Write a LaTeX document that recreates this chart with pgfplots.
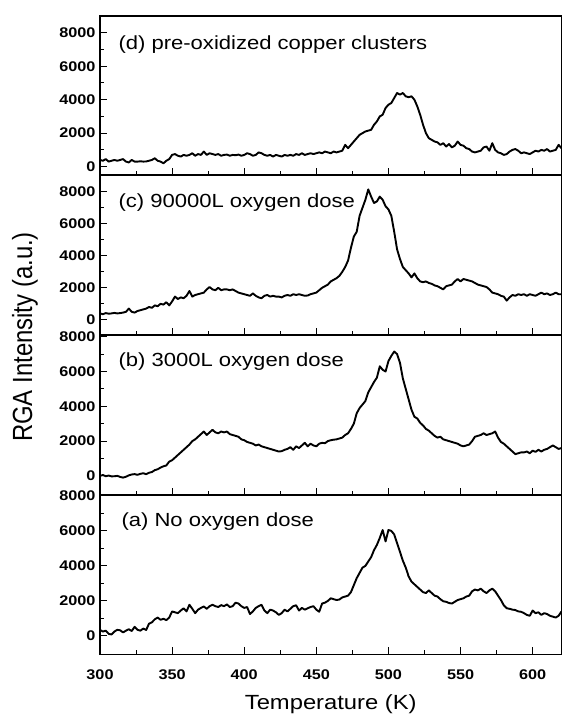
\documentclass[border=0pt]{standalone}
\usepackage{fontspec}
\setmainfont[FakeStretch=1.16]{Liberation Sans}
\newfontfamily\plainsans{Liberation Sans}
\usepackage{graphicx}
\usepackage{pgfplots}
\pgfplotsset{compat=1.18}
\pgfplotsset{
  panel/.style={
    scale only axis, width=461.5bp,
    xmin=300, xmax=620,
    xtick={300,350,...,600}, minor x tick num=1,
    ytick={0,2000,4000,6000,8000}, minor y tick num=1,
    tick align=inside, xtick pos=left, ytick pos=left,
    major tick length=7bp, minor tick length=4bp,
    axis line style={line width=1.3bp},
    every tick/.append style={black, line width=1.1bp},
    /pgf/number format/assume math mode=true,
    /pgf/number format/set thousands separator={},
    tick label style={font=\fontsize{14bp}{16bp}\selectfont\bfseries},
    yticklabel style={xshift=-1bp},
    clip=true,
  },
  curve/.style={black, line width=1.9bp, mark=none, line join=round},
}
\tikzset{lab/.style={anchor=west, font=\fontsize{19bp}{22bp}\selectfont}}
\begin{document}
\begin{tikzpicture}
% (d)
\begin{axis}[panel, at={(0,0)}, anchor=north west, height=159bp, ymin=-500, ymax=9000, xticklabels={}]
\addplot[curve] coordinates {(300,400)(302,350)(304,450)(306,300)(308,350)(310,400)(312,350)(314,400)(316,450)(318,300)(320,250)(322,400)(324,300)(326,300)(328,320)(330,300)(332,310)(334,350)(336,400)(338,500)(340,350)(342,300)(344,200)(346,350)(348,450)(350,700)(352,750)(354,650)(356,600)(358,700)(360,650)(362,700)(364,800)(366,650)(368,750)(370,700)(372,900)(374,700)(376,800)(378,750)(380,700)(382,750)(384,650)(386,700)(388,720)(390,650)(392,700)(394,680)(396,720)(398,650)(400,700)(402,800)(404,750)(406,650)(408,700)(410,850)(412,800)(414,700)(416,650)(418,700)(420,600)(422,700)(424,650)(426,600)(428,700)(430,650)(432,700)(434,650)(436,750)(438,700)(440,800)(442,700)(444,750)(446,800)(448,750)(450,800)(452,850)(454,800)(456,900)(458,850)(460,800)(462,900)(464,850)(466,900)(468,950)(470,1300)(472,1100)(474,1300)(476,1500)(478,1700)(480,1900)(482,2000)(484,2100)(486,2150)(488,2200)(490,2500)(492,2700)(494,3000)(496,3100)(498,3500)(500,3700)(502,3800)(504,4100)(506,4400)(508,4300)(510,4400)(512,4200)(514,4150)(516,4200)(518,4000)(520,3600)(522,3100)(524,2500)(526,2000)(528,1700)(530,1600)(532,1500)(534,1450)(536,1300)(538,1400)(540,1200)(542,1350)(544,1150)(546,1250)(548,1500)(550,1300)(552,1250)(554,1100)(556,1050)(558,900)(560,850)(562,900)(564,950)(566,1150)(568,1200)(570,950)(572,1400)(574,1000)(576,850)(578,800)(580,700)(582,750)(584,900)(586,1000)(588,1050)(590,950)(592,800)(594,850)(596,800)(598,750)(600,850)(602,950)(604,900)(606,1000)(608,950)(610,1050)(612,900)(614,950)(616,1000)(618,1300)(620,1100)};
\node[lab] at (rel axis cs:0.0325,0.818) {(d) pre-oxidized copper clusters};
\end{axis}
% (c)
\begin{axis}[panel, at={(0,-159bp)}, anchor=north west, height=160bp, ymin=-950, ymax=9050, xticklabels={}]
\addplot[curve] coordinates {(300,400)(302,350)(304,420)(306,380)(308,400)(310,430)(312,400)(314,420)(316,450)(318,500)(320,700)(322,500)(324,450)(326,550)(328,600)(330,650)(332,700)(334,800)(336,750)(338,900)(340,850)(342,1000)(344,950)(346,1100)(348,900)(350,1150)(352,1450)(354,1300)(356,1400)(358,1350)(360,1500)(362,1800)(364,1450)(366,1550)(368,1600)(370,1650)(372,1700)(374,1900)(376,2050)(378,1900)(380,1850)(382,2000)(384,1850)(386,1900)(388,1900)(390,1850)(392,1900)(394,1800)(396,1700)(398,1650)(400,1600)(402,1550)(404,1500)(406,1650)(408,1500)(410,1400)(412,1350)(414,1500)(416,1550)(418,1450)(420,1500)(422,1450)(424,1450)(426,1400)(428,1500)(430,1550)(432,1500)(434,1600)(436,1550)(438,1600)(440,1550)(442,1500)(444,1520)(446,1600)(448,1650)(450,1700)(452,1850)(454,2000)(456,2100)(458,2200)(460,2400)(462,2500)(464,2600)(466,2750)(468,3000)(470,3300)(472,3700)(474,4500)(476,5200)(478,5500)(480,6500)(482,7000)(484,7500)(486,8150)(488,7700)(490,7300)(492,7400)(494,7700)(496,7500)(498,7100)(500,6900)(502,6500)(504,5500)(506,4400)(508,3800)(510,3300)(512,3100)(514,2900)(516,2650)(518,2900)(520,2600)(522,2400)(524,2350)(526,2400)(528,2300)(530,2250)(532,2150)(534,2100)(536,2000)(538,1900)(540,2100)(542,2150)(544,2200)(546,2400)(548,2550)(550,2400)(552,2550)(554,2500)(556,2450)(558,2400)(560,2300)(562,2200)(564,2150)(566,2100)(568,2050)(570,1900)(572,1700)(574,1650)(576,1600)(578,1500)(580,1450)(582,1200)(584,1400)(586,1550)(588,1500)(590,1600)(592,1550)(594,1600)(596,1500)(598,1600)(600,1550)(602,1500)(604,1600)(606,1700)(608,1600)(610,1650)(612,1550)(614,1600)(616,1700)(618,1600)(620,1600)};
\node[lab] at (rel axis cs:0.0325,0.825) {(c) 90000L oxygen dose};
\end{axis}
% (b)
\begin{axis}[panel, at={(0,-319bp)}, anchor=north west, height=160bp, ymin=-1100, ymax=8100, xticklabels={}]
\addplot[curve] coordinates {(300,0)(302,50)(304,-20)(306,20)(308,-30)(310,-20)(312,0)(314,-60)(316,-100)(318,-50)(320,30)(322,80)(324,100)(326,60)(328,120)(330,150)(332,100)(334,180)(336,220)(338,330)(340,380)(342,480)(344,550)(346,600)(348,820)(350,900)(352,1050)(354,1200)(356,1350)(358,1500)(360,1650)(362,1800)(364,2000)(366,2100)(368,2250)(370,2400)(372,2550)(374,2350)(376,2500)(378,2650)(380,2500)(382,2450)(384,2550)(386,2500)(388,2550)(390,2400)(392,2350)(394,2300)(396,2250)(398,2100)(400,2050)(402,1950)(404,1900)(406,1850)(408,1750)(410,1800)(412,1700)(414,1650)(416,1600)(418,1550)(420,1500)(422,1450)(424,1400)(426,1420)(428,1500)(430,1550)(432,1650)(434,1500)(436,1700)(438,1600)(440,1750)(442,1900)(444,1700)(446,1850)(448,1750)(450,1700)(452,1850)(454,1900)(456,1880)(458,2000)(460,2050)(462,2080)(464,2100)(466,2150)(468,2200)(470,2350)(472,2450)(474,2700)(476,3000)(478,3600)(480,3900)(482,4100)(484,4300)(486,4800)(488,5100)(490,5400)(492,5650)(494,6300)(496,6100)(498,6000)(500,6600)(502,6900)(504,7150)(506,7000)(508,6500)(510,5600)(512,5000)(514,4400)(516,3800)(518,3400)(520,3300)(522,3050)(524,2900)(526,2700)(528,2600)(530,2450)(532,2300)(534,2200)(536,2250)(538,2100)(540,2050)(542,2000)(544,1950)(546,1900)(548,1850)(550,1750)(552,1700)(554,1750)(556,1800)(558,2000)(560,2250)(562,2300)(564,2350)(566,2450)(568,2350)(570,2400)(572,2450)(574,2550)(576,2200)(578,1950)(580,1850)(582,1700)(584,1550)(586,1400)(588,1250)(590,1300)(592,1350)(594,1350)(596,1400)(598,1300)(600,1450)(602,1380)(604,1500)(606,1400)(608,1500)(610,1550)(612,1650)(614,1750)(616,1650)(618,1550)(620,1600)};
\node[lab] at (rel axis cs:0.0325,0.833) {(b) 3000L oxygen dose};
\end{axis}
% (a)
\begin{axis}[panel, at={(0,-479bp)}, anchor=north west, height=159.3bp, ymin=-1050, ymax=8050,
  xticklabel style={yshift=-12bp}]
\addplot[curve] coordinates {(300,340)(302,250)(304,300)(306,120)(308,80)(310,250)(312,350)(314,320)(316,200)(318,300)(320,380)(322,280)(324,520)(326,350)(328,300)(330,420)(332,340)(334,700)(336,780)(338,950)(340,1050)(342,920)(344,980)(346,900)(348,1050)(350,1400)(352,1350)(354,1300)(356,1450)(358,1580)(360,1400)(362,1780)(364,1550)(366,1300)(368,1500)(370,1600)(372,1680)(374,1550)(376,1700)(378,1780)(380,1700)(382,1650)(384,1760)(386,1700)(388,1800)(390,1650)(392,1700)(394,1900)(396,1850)(398,1700)(400,1600)(402,1650)(404,1250)(406,1400)(408,1600)(410,1700)(412,1780)(414,1450)(416,1300)(418,1500)(420,1450)(422,1350)(424,1200)(426,1300)(428,1500)(430,1400)(432,1550)(434,1700)(436,1750)(438,1450)(440,1600)(442,1500)(444,1580)(446,1650)(448,1700)(450,1500)(452,1380)(454,1850)(456,1900)(458,2000)(460,2150)(462,2100)(464,2050)(466,2080)(468,2200)(470,2250)(472,2300)(474,2500)(476,2900)(478,3300)(480,3600)(482,3900)(484,4000)(486,4250)(488,4500)(490,4900)(492,5200)(494,5600)(496,6050)(498,5400)(500,6050)(502,6000)(504,5800)(506,5300)(508,4800)(510,4300)(512,3900)(514,3400)(516,3100)(518,2950)(520,2800)(522,2650)(524,2500)(526,2450)(528,2600)(530,2450)(532,2300)(534,2250)(536,2100)(538,1980)(540,1950)(542,1880)(544,1850)(546,1950)(548,2050)(550,2100)(552,2150)(554,2250)(556,2300)(558,2550)(560,2650)(562,2600)(564,2700)(566,2550)(568,2450)(570,2600)(572,2700)(574,2550)(576,2300)(578,2050)(580,1750)(582,1580)(584,1550)(586,1500)(588,1480)(590,1400)(592,1380)(594,1300)(596,1200)(598,1150)(600,1450)(602,1300)(604,1350)(606,1200)(608,1300)(610,1250)(612,1150)(614,1100)(616,1050)(618,1150)(620,1400)};
\node[lab] at (rel axis cs:0.0390,0.833) {(a) No oxygen dose};
\end{axis}
\node[rotate=90, font=\plainsans\fontsize{23.9bp}{28bp}\selectfont] at (-75bp,-321bp) {\scalebox{1}[1.16]{RGA Intensity (a.u.)}};
\node[anchor=base, font=\fontsize{20.5bp}{24bp}\selectfont] at (230.75bp,-693bp) {Temperature (K)};
\pgfresetboundingbox
\path (-100bp,16bp) rectangle (462bp,-701bp);
\end{tikzpicture}
\end{document}
